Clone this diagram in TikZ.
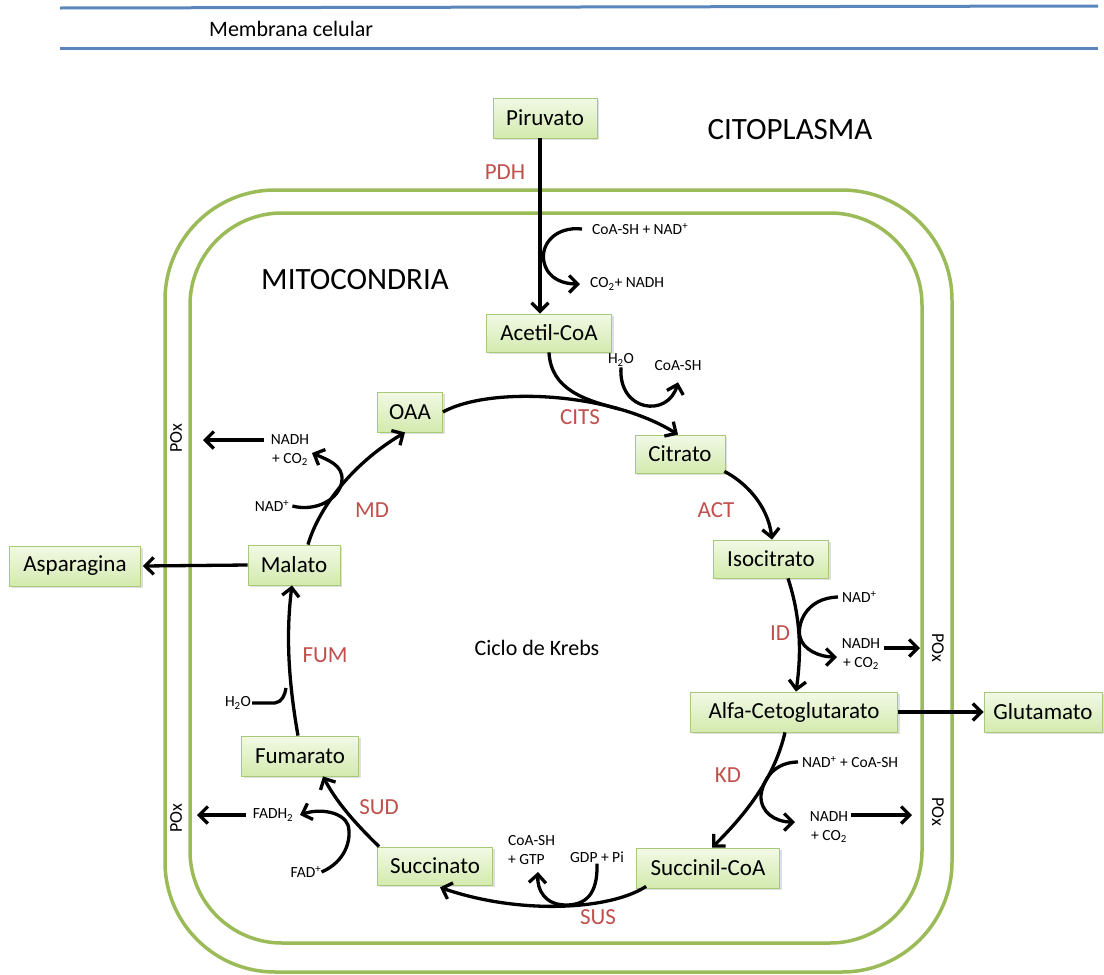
\documentclass[tikz,border=0pt]{standalone}
\usepackage{fontspec}
\setmainfont{Carlito}
\usetikzlibrary{arrows.meta,shadows}
\definecolor{mitoG}{HTML}{9BBB59}
\definecolor{memB}{HTML}{5A86BC}
\definecolor{enzR}{HTML}{C0504D}
\definecolor{boxTop}{HTML}{F2F9E6}
\definecolor{boxBot}{HTML}{D3EAAE}
\definecolor{boxLine}{HTML}{A9C97A}
\begin{document}
\begin{tikzpicture}[x=1pt,y=-1pt,
  box/.style={draw=boxLine, line width=0.8pt, top color=boxTop, bottom color=boxBot,
    minimum height=40pt, inner sep=0pt, font=\fontsize{23}{27}\selectfont,
    drop shadow={shadow xshift=2pt, shadow yshift=-2pt, opacity=0.25}},
  enz/.style={text=enzR, font=\fontsize{23}{27}\selectfont, inner sep=0pt},
  sm/.style={font=\fontsize{15.5}{19}\selectfont, inner sep=1pt},
  poxs/.style={font=\fontsize{18}{20}\selectfont, inner sep=1pt},
  big/.style={font=\fontsize{31}{35}\selectfont, inner sep=0pt},
  arr/.style={line width=3.3pt, -{Straight Barb[length=8.5pt,width=17pt]}},
  ln/.style={line width=3.3pt},
  wall/.style={draw=mitoG, line width=3.5pt}]
\useasboundingbox (0,0) rectangle (1104,975);
\fill[white] (0,0) rectangle (1104,975);

% cell membrane
\draw[memB, line width=3pt] (60,8) -- (1098,6);
\draw[memB, line width=3pt] (60,48) -- (1098,48);
\node[anchor=west, font=\fontsize{22}{26}\selectfont, inner sep=0pt] (memtxt) at (209,29) {Membrana celular};

% mitochondrion
\draw[wall, rounded corners=110pt] (165,190) rectangle (952,972);
\draw[wall, rounded corners=92pt] (190,213) rectangle (922,943);

\node[big] (citotxt) at (790,130) {CITOPLASMA};
\node[big] (mitotxt) at (355,280) {MITOCONDRIA};
\node[font=\fontsize{22}{26}\selectfont] (krebs) at (537,648) {Ciclo de Krebs};

% boxes
\node[box, minimum width=104pt] (piruvato) at (545,118) {Piruvato};
\node[box, minimum width=125pt, minimum height=38pt] (acetil) at (549,333) {Acetil-CoA};
\node[box, minimum width=90pt, minimum height=38pt] (citrato) at (680,454) {Citrato};
\node[box, minimum width=115pt, minimum height=38pt] (isocitrato) at (771,559) {Isocitrato};
\node[box, minimum width=207pt] (alfa) at (794,712) {Alfa-Cetoglutarato};
\node[box, minimum width=118pt] (glutamato) at (1043,712) {Glutamato};
\node[box, minimum width=143pt] (succinil) at (708,868) {Succinil-CoA};
\node[box, minimum width=115pt, minimum height=38pt] (succinato) at (435,866) {Succinato};
\node[box, minimum width=117pt] (fumarato) at (300,756) {Fumarato};
\node[box, minimum width=92pt] (malato) at (294,565) {Malato};
\node[box, minimum width=131pt] (asparagina) at (75,566) {Asparagina};
\node[box, minimum width=65pt] (oaa) at (410,412) {OAA};

% enzymes
\node[enz] (pdh) at (505,172) {PDH};
\node[enz] (cits) at (580,417) {CITS};
\node[enz] (act) at (716,510) {ACT};
\node[enz] (id) at (780,633) {ID};
\node[enz] (kd) at (728,775) {KD};
\node[enz] (sus) at (598,917) {SUS};
\node[enz] (sud) at (379,807) {SUD};
\node[enz] (fum) at (325,655) {FUM};
\node[enz] (md) at (372,510) {MD};

% cofactors
\node[sm, anchor=west] (coa1) at (591,229) {CoA-SH + NAD\textsuperscript{+}};
\node[sm, anchor=west] (co2a) at (589,284) {CO\textsubscript{2}+ NADH};
\node[sm] (h2oA) at (621,360) {H\textsubscript{2}O};
\node[sm] (coa2) at (678,366) {CoA-SH};
\node[sm, anchor=west] (nad2) at (841,597) {NAD\textsuperscript{+}};
\node[sm, align=center] (nadh2) at (861,654) {NADH\\+ CO\textsubscript{2}};
\node[sm, anchor=west] (nad3) at (801,762) {NAD\textsuperscript{+} + CoA-SH};
\node[sm, align=center] (nadh3) at (829,827) {NADH\\+ CO\textsubscript{2}};
\node[sm] (gdp) at (597,857) {GDP + Pi};
\node[sm, anchor=west, align=left] (gtp) at (507,850) {CoA-SH\\+ GTP};
\node[sm] (fad) at (306,872) {FAD\textsuperscript{+}};
\node[sm] (fadh) at (273,815) {FADH\textsubscript{2}};
\node[sm] (h2oB) at (238,703) {H\textsubscript{2}O};
\node[sm] (nad1) at (272,506) {NAD\textsuperscript{+}};
\node[sm, align=center] (nadh1) at (290,450) {NADH\\+ CO\textsubscript{2}};

% POx labels
\node[poxs, rotate=90] (poxL1) at (176,438) {POx};
\node[poxs, rotate=90] (poxL2) at (176,818) {POx};
\node[poxs, rotate=-90] (poxR1) at (938,648) {POx};
\node[poxs, rotate=-90] (poxR2) at (938,812) {POx};

% free ends
\coordinate (tipL1) at (203,440);
\coordinate (tipL2) at (197,815);
\coordinate (tipR1) at (920,648);
\coordinate (tipR2) at (912,815);

% PDH
\draw[arr] ([xshift=-5pt]piruvato.south) -- ([xshift=-9pt]acetil.north);
\draw[arr] ([xshift=-9pt]coa1.west) .. controls (555,226) and (540,245) .. (544,262)
  .. controls (548,280) and (565,284) .. ([xshift=-9pt]co2a.west);

% CITS
\draw[arr] (oaa.east) .. controls (490,386) and (610,392) .. ([xshift=-2pt]citrato.north);
\draw[ln] (acetil.south) .. controls (551,390) and (585,400) .. (619,409);
\draw[arr] (h2oA.south) .. controls (618,412) and (668,418) .. ([yshift=-10pt]coa2.south);

% ACT
\draw[arr] ([xshift=-1pt,yshift=2pt]citrato.south east) .. controls (745,482) and (768,505) .. ([xshift=1pt]isocitrato.north);

% ID
\draw[arr] ([xshift=17pt]isocitrato.south) .. controls (800,615) and (802,650) .. ([xshift=2pt]alfa.north);
\draw[arr] ([xshift=-3pt]nad2.west) .. controls (805,598) and (797,625) .. (800,637)
  .. controls (803,650) and (820,657) .. (837,657);
\draw[arr] ([xshift=3pt,yshift=6pt]nadh2.east) -- (tipR1);

% Glutamato
\draw[arr] (alfa.east) -- (glutamato.west);

% KD
\draw[arr] ([xshift=-9pt]alfa.south) .. controls (775,775) and (750,810) .. ([xshift=4pt]succinil.north);
\draw[arr] ([xshift=-3pt]nad3.west) .. controls (778,762) and (764,775) .. (761,795)
  .. controls (760,812) and (775,822) .. (795,822);
\draw[arr] ([xshift=2pt,yshift=12pt]nadh3.east) -- (tipR2);

% SUS
\draw[arr] ([xshift=10pt,yshift=2pt]succinil.south west) .. controls (610,910) and (520,915) .. ([xshift=5pt,yshift=-2pt]succinato.south);
\draw[arr] (gdp.south) .. controls (598,895) and (585,905) .. (566,905)
  .. controls (545,905) and (537,890) .. (538,872);

% SUD
\draw[arr] ([xshift=2pt]succinato.north west) .. controls (360,828) and (338,805) .. ([xshift=23pt]fumarato.south);
\draw[arr] ([xshift=-1pt]fad.east) .. controls (345,862) and (352,840) .. (348,825)
  .. controls (343,812) and (320,808) .. (300,815);
\draw[arr] ([xshift=-6pt]fadh.west) -- (tipL2);

% FUM
\draw[arr] ([xshift=-2pt]fumarato.north) .. controls (290,690) and (285,640) .. ([xshift=-2pt]malato.south);
\draw[ln] (h2oB.east) -- (275,703) .. controls (282,702) and (285,695) .. (286,688);

% Asparagina
\draw[arr] (malato.west) -- ([xshift=2pt]asparagina.east);

% MD
\draw[arr] ([xshift=14pt]malato.north) .. controls (318,510) and (350,465) .. ([xshift=-5pt]oaa.south);
\draw[arr] ([xshift=2pt]nad1.east) .. controls (315,512) and (340,500) .. (342,480)
  .. controls (343,465) and (328,460) .. (312,453);
\draw[arr] ([xshift=-6pt,yshift=10pt]nadh1.west) -- (tipL1);
\end{tikzpicture}
\end{document}
